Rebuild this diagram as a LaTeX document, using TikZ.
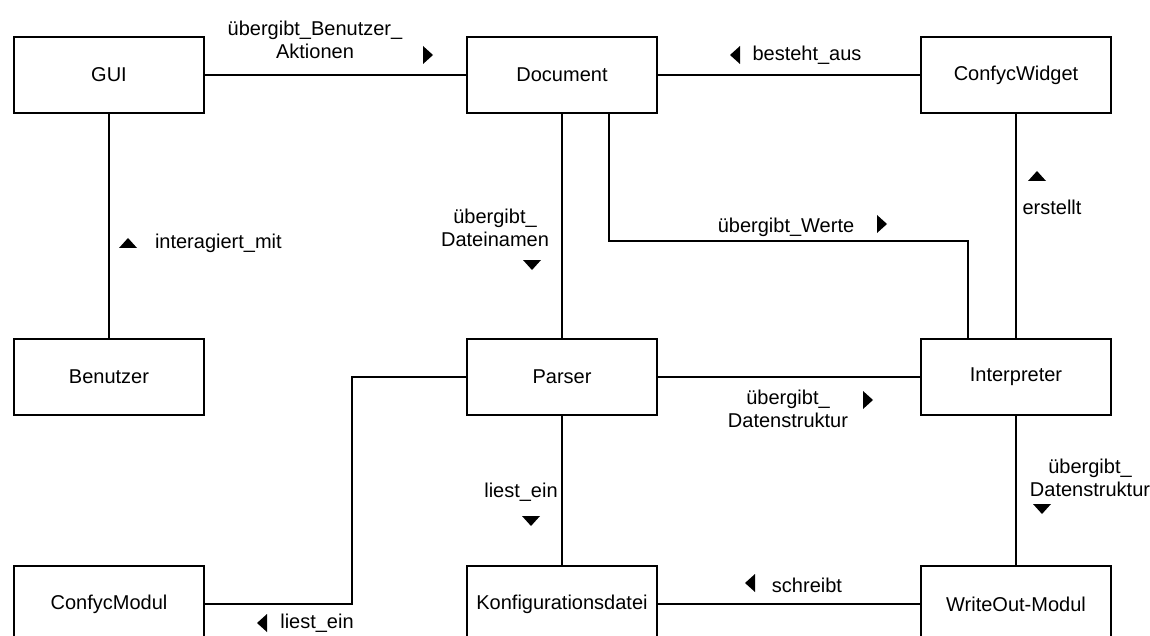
\documentclass[tikz,border=0pt]{standalone}
\usepackage{fontspec}
\setmainfont{Liberation Sans}
\usepackage{tikz}
\tikzset{
  entity/.style={draw, minimum width=95pt, minimum height=38pt, inner sep=0pt},
  rel/.style={align=center, inner sep=0pt, font=\fontsize{10}{11.5}\selectfont},
  triR/.pic={\fill (-2.5pt,4.5pt) -- (2.5pt,0pt) -- (-2.5pt,-4.5pt) -- cycle;},
  triL/.pic={\fill (2.5pt,4.5pt) -- (-2.5pt,0pt) -- (2.5pt,-4.5pt) -- cycle;},
  triU/.pic={\fill (-4.5pt,-2.5pt) -- (0pt,2.5pt) -- (4.5pt,-2.5pt) -- cycle;},
  triD/.pic={\fill (-4.5pt,2.5pt) -- (0pt,-2.5pt) -- (4.5pt,2.5pt) -- cycle;}
}

\begin{document}
\begin{tikzpicture}[x=0.5pt, y=-0.5pt, line width=1pt]
        \clip (0,0) rectangle (1150,636);
        % boxes
        \node[entity] (gui) at (109,75) {GUI};
        \node[entity] (doc) at (562,75) {Document};
        \node[entity] (widget) at (1016,75) {ConfycWidget};
        \node[entity] (user) at (109,377) {Benutzer};
        \node[entity] (parser) at (562,377) {Parser};
        \node[entity] (interp) at (1016,377) {Interpreter};
        \node[entity] (modul) at (109,604) {ConfycModul};
        \node[entity] (konf) at (562,604) {Konfigurationsdatei};
        \node[entity] (writeout) at (1016,604) {WriteOut-Modul};
        \coordinate (wbend) at (968,241);
        \coordinate (lbend) at (352,377);
        % lines
        \draw (gui) -- (doc);
        \draw (doc) -- (widget);
        \draw (gui) -- (user);
        \draw (doc) -- (parser);
        \draw ([xshift=23.5pt]doc.south) |- (wbend) -- (wbend |- interp.north);
        \draw (widget) -- (interp);
        \draw (parser) -- (interp);
        \draw (parser.west) -- (lbend) |- (modul.east);
        \draw (parser) -- (konf);
        \draw (interp) -- (writeout);
        \draw (konf) -- (writeout);
        % labels
        \node[rel] (l1) at (315,40) {übergibt\_Benutzer\_\\Aktionen};
        \pic at (428,55) {triR};
        \node[rel] (l2) at (807,55) {besteht\_aus};
        \pic at (735,55) {triL};
        \node[rel, anchor=west] (l3) at (154,243) {interagiert\_mit};
        \pic at (128,243) {triU};
        \node[rel] (l4) at (495,228) {übergibt\_\\Dateinamen};
        \pic at (532,265) {triD};
        \node[rel] (l5) at (786,227) {übergibt\_Werte};
        \pic at (882,224) {triR};
        \node[rel] (l6) at (1052,207) {erstellt};
        \pic at (1037,176) {triU};
        \node[rel] (l7) at (788,409) {übergibt\_\\Datenstruktur};
        \pic at (868,400) {triR};
        \node[rel] (l8) at (1090,478) {übergibt\_\\Datenstruktur};
        \pic at (1042,509) {triD};
        \node[rel] (l9) at (521,492) {liest\_ein};
        \pic at (531,521) {triD};
        \node[rel] (l10) at (807,585) {schreibt};
        \pic at (750,583) {triL};
        \node[rel] (l11) at (317,623) {liest\_ein};
        \pic at (262,623) {triL};
\end{tikzpicture}
\end{document}
